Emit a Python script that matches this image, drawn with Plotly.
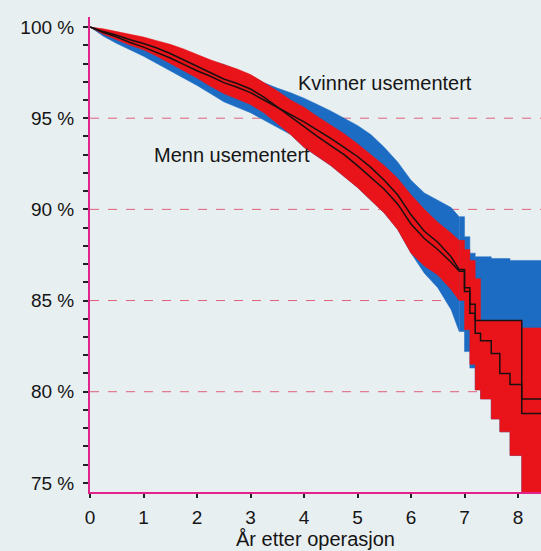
import plotly.graph_objects as go

# ---- data ----
years = [0, 0.25, 0.5, 0.75, 1.0, 1.25, 1.5, 1.75, 2.0, 2.25, 2.5, 2.75, 3.0, 3.25,
         3.5, 3.75, 4.0, 4.25, 4.5, 4.75, 5.0, 5.25, 5.5, 5.75, 6.0, 6.25, 6.5, 6.75,
         6.9, 7.0, 7.1, 7.2, 7.3, 7.5, 7.66, 7.85, 8.07, 8.45]

men_hi = [100, 99.9, 99.75, 99.6, 99.45, 99.25, 99.05, 98.8, 98.5, 98.2, 97.95, 97.7,
          97.4, 96.95, 96.5, 96.0, 95.6, 95.1, 94.6, 94.15, 93.6, 93.0, 92.4, 91.7,
          90.8, 90.0, 89.3, 88.7, 88.3, 87.8, 87.2, 86.2, 83.9, 83.9, 83.9, 83.9, 83.5, 83.5]
men_lo = [100, 99.6, 99.3, 99.0, 98.75, 98.4, 98.0, 97.6, 97.2, 96.75, 96.35, 96.05,
          95.75, 95.3, 94.7, 94.1, 93.4, 92.9, 92.4, 91.8, 91.2, 90.5, 89.8, 88.9,
          87.6, 86.9, 86.4, 85.6, 85.0, 83.4, 81.5, 80.1, 79.6, 78.5, 77.8, 76.5, 74.0, 74.0]
men_est = [100, 99.75, 99.55, 99.3, 99.1, 98.85, 98.55, 98.2, 97.85, 97.5, 97.15, 96.9,
           96.6, 96.15, 95.6, 95.05, 94.5, 94.0, 93.5, 93.0, 92.4, 91.75, 91.1, 90.3,
           89.2, 88.4, 87.8, 87.1, 86.6, 85.5, 84.3, 83.2, 82.8, 82.1, 81.0, 80.4, 78.8, 78.8]

women_hi = [100, 99.85, 99.7, 99.5, 99.3, 99.1, 98.9, 98.65, 98.4, 98.15, 97.95, 97.65,
            97.35, 96.95, 96.65, 96.4, 96.1, 95.75, 95.4, 95.0, 94.6, 94.1, 93.4, 92.6,
            91.6, 90.9, 90.5, 90.1, 89.6, 88.5, 87.6, 87.4, 87.4, 87.3, 87.3, 87.2, 87.2, 87.2]
women_lo = [100, 99.5, 99.1, 98.75, 98.4, 98.0, 97.6, 97.2, 96.8, 96.35, 95.9, 95.6,
            95.3, 94.9, 94.5, 94.1, 93.4, 92.9, 92.4, 91.8, 91.2, 90.5, 89.8, 88.9,
            87.6, 86.5, 85.7, 84.5, 83.3, 82.2, 81.3, 80.1, 79.6, 78.5, 77.8, 76.5, 74.0, 74.0]
women_est = [100, 99.7, 99.45, 99.15, 98.9, 98.6, 98.3, 97.95, 97.6, 97.3, 96.95, 96.7,
             96.4, 96.0, 95.6, 95.2, 94.8, 94.35, 93.9, 93.4, 92.9, 92.3, 91.6, 90.8,
             89.7, 88.8, 88.2, 87.4, 86.7, 85.7, 84.8, 83.9, 83.9, 83.9, 83.9, 83.9, 79.6, 79.6]

x_ticks = [0, 1, 2, 3, 4, 5, 6, 7, 8]
y_ticks = [75, 80, 85, 90, 95, 100]
y_ticktext = ["75 %", "80 %", "85 %", "90 %", "95 %", "100 %"]
grid_vals = [80, 85, 90, 95]

label_women = "Kvinner usementert"
label_men = "Menn usementert"
x_title = "År etter operasjon"

# ---- style ----
BG = "#e8eff1"
BLUE = "#1c6cc4"
RED = "#e8141a"
MAG = "#e0248c"
TXT = "#151515"
FONT = "Liberation Sans, Arial, sans-serif"
SPLIT = 28  # index where the curves turn into coarse steps

fig = go.Figure()

def seg(arr, part):
    return arr[:SPLIT + 1] if part == 0 else arr[SPLIT:]

def band(lo, hi, color):
    for part, shape in ((0, "linear"), (1, "hv")):
        fig.add_trace(go.Scatter(x=seg(years, part), y=seg(lo, part), mode="lines",
                                 line=dict(width=0.5, shape=shape, color=color),
                                 showlegend=False, hoverinfo="skip"))
        fig.add_trace(go.Scatter(x=seg(years, part), y=seg(hi, part), mode="lines",
                                 fill="tonexty", fillcolor=color,
                                 line=dict(width=0.5, shape=shape, color=color),
                                 showlegend=False, hoverinfo="skip"))

band(women_lo, women_hi, BLUE)
band(men_lo, men_hi, RED)

for est in (women_est, men_est):
    for part, shape in ((0, "linear"), (1, "hv")):
        fig.add_trace(go.Scatter(x=seg(years, part), y=seg(est, part), mode="lines",
                                 line=dict(width=1.5, shape=shape, color="#1a1010"),
                                 showlegend=False, hoverinfo="skip"))

for g in grid_vals:
    fig.add_hline(y=g, line=dict(color="#e0607a", width=1, dash="dash"), layer="below")

fig.add_annotation(x=5.51, y=96.93, text=label_women, showarrow=False,
                   font=dict(family=FONT, size=20, color=TXT))
fig.add_annotation(x=2.66, y=92.98, text=label_men, showarrow=False,
                   font=dict(family=FONT, size=20, color=TXT))

fig.update_layout(
    width=541, height=551,
    margin=dict(l=90, r=0, t=17, b=59),
    paper_bgcolor=BG, plot_bgcolor=BG,
    font=dict(family=FONT, size=19, color=TXT),
    showlegend=False,
    xaxis=dict(range=[0, 8.43], tickvals=x_ticks, ticks="outside", ticklen=4,
               tickwidth=2, tickcolor="#222", showline=True, linecolor=MAG,
               linewidth=2, showgrid=False, zeroline=False,
               tickfont=dict(size=19), ticklabelstandoff=3,
               title=dict(text=x_title, font=dict(size=20), standoff=3)),
    yaxis=dict(range=[74.5, 100.55], tickvals=y_ticks, ticktext=y_ticktext,
               ticks="outside", ticklen=5, tickwidth=2, tickcolor="#222",
               showline=True, linecolor=MAG, linewidth=2, showgrid=False,
               zeroline=False, tickfont=dict(size=19), ticklabelstandoff=5,
               minor=dict(dtick=1, ticks="outside", ticklen=5, tickwidth=2,
                          tickcolor="#222", showgrid=False)),
)

fig.write_html("out.html")
